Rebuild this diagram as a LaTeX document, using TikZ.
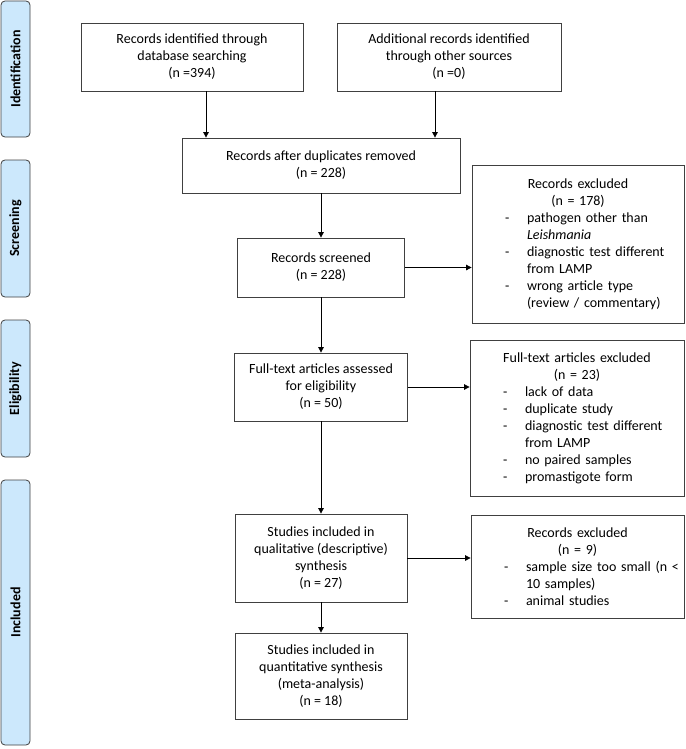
\documentclass[tikz,border=0pt]{standalone}
\usepackage{fontspec}
\setmainfont{Carlito}
\usetikzlibrary{arrows.meta}

\definecolor{phaseblue}{RGB}{204,232,252}
\definecolor{boxgray}{RGB}{64,64,64}

% one dashed entry of an exclusion list
\newcommand{\exitem}[1]{{\leftskip=51pt\noindent\llap{\makebox[22pt][l]{-}}#1\par}}

\begin{document}
\begin{tikzpicture}[x=1pt, y=-1pt,
    box/.style={draw=boxgray, line width=0.8pt, align=center, inner sep=2pt, font=\fontsize{14}{17}\selectfont},
    exbox/.style={draw=boxgray, line width=0.8pt, align=left, inner xsep=4pt, font=\fontsize{14}{17}\selectfont},
    phase/.style={draw=boxgray, line width=0.8pt, fill=phaseblue, rounded corners=4pt, rotate=90, minimum height=29pt, font=\fontsize{14}{17}\selectfont\bfseries},
    arr/.style={-{Triangle[length=5.5pt,width=5.5pt]}, line width=0.8pt}]
    \useasboundingbox (0,0) rectangle (685,749);

    % Phase bars
    \node[phase, minimum width=136pt] (ident) at (15.5,69) {Identification};
    \node[phase, minimum width=137pt] (screen) at (15.5,228.5) {Screening};
    \node[phase, minimum width=137pt] (elig) at (15.5,388.5) {Eligibility};
    \node[phase, minimum width=265pt] (incl) at (15.5,612.5) {Included};

    % Identification
    \node[box, minimum width=222pt, minimum height=68pt] (dbsearch) at (192,57) {Records identified through\\database searching\\(n =394)};
    \node[box, minimum width=224pt, minimum height=68pt] (other) at (449,57) {Additional records identified\\through other sources\\(n =0)};

    % Screening
    \node[box, minimum width=278pt, minimum height=55pt] (dedup) at (321,165.5) {Records after duplicates removed\\(n = 228)};
    \node[box, minimum width=167pt, minimum height=59pt] (screened) at (321,267.5) {Records screened\\(n = 228)};
    \node[exbox, text width=204pt, minimum height=158pt] (excl1) at (578,244) {%
        {\centering Records excluded\\(n = 178)\par}
        \exitem{pathogen other than\\\textit{Leishmania}}
        \exitem{diagnostic test different\\from LAMP}
        \exitem{wrong article type\\(review / commentary)}};

    % Eligibility
    \node[box, minimum width=173pt, minimum height=68pt] (fulltext) at (321,387) {Full-text articles assessed\\for eligibility\\(n = 50)};
    \node[exbox, text width=206pt, minimum height=156pt] (excl2) at (577,418) {%
        {\centering Full-text articles excluded\\(n = 23)\par}
        \exitem{lack of data}
        \exitem{duplicate study}
        \exitem{diagnostic test different\\from LAMP}
        \exitem{no paired samples}
        \exitem{promastigote form}};

    % Included
    \node[box, minimum width=172pt, minimum height=88pt] (qual) at (321,558) {Studies included in\\qualitative (descriptive)\\synthesis\\(n = 27)};
    \node[exbox, text width=205pt, minimum height=103pt] (excl3) at (577.5,566.5) {%
        {\centering Records excluded\\(n = 9)\par}
        \exitem{sample size too small (n <\\10 samples)}
        \exitem{animal studies}};
    \node[box, minimum width=172pt, minimum height=86pt] (quant) at (321,676) {Studies included in\\quantitative synthesis\\(meta-analysis)\\(n = 18)};

    % Connectors
    \draw[arr] ([xshift=14pt]dbsearch.south) -- ([xshift=14pt]dbsearch.south |- dedup.north);
    \draw[arr] ([xshift=-14pt]other.south) -- ([xshift=-14pt]other.south |- dedup.north);
    \draw[arr] (dedup) -- (screened);
    \draw[arr] (screened) -- (fulltext);
    \draw[arr] (fulltext) -- (qual);
    \draw[arr] (qual) -- (quant);
    \draw[arr] (screened.east) -- (screened.east -| excl1.west);
    \draw[arr] (fulltext.east) -- (fulltext.east -| excl2.west);
    \draw[arr] (qual.east) -- (qual.east -| excl3.west);
\end{tikzpicture}
\end{document}
